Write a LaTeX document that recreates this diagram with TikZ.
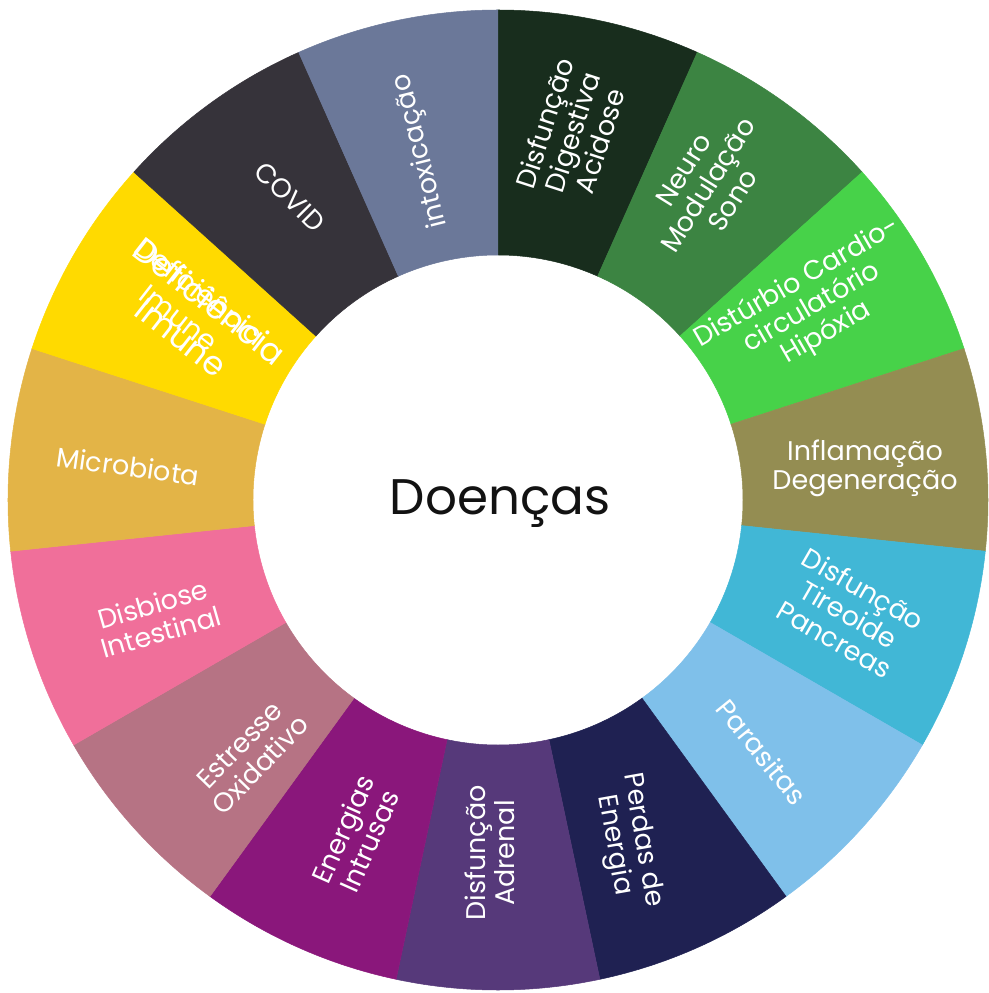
\documentclass[tikz,border=0pt]{standalone}
\usepackage{fontspec}
\setmainfont{Poppins}
\usepackage{xcolor}

\definecolor{cdigest}{HTML}{182D1D}
\definecolor{cneuro}{HTML}{3C8442}
\definecolor{ccardio}{HTML}{47D249}
\definecolor{cinflam}{HTML}{948D52}
\definecolor{ctireo}{HTML}{41B7D6}
\definecolor{cparas}{HTML}{7FC0EA}
\definecolor{cperdas}{HTML}{1F2152}
\definecolor{cadrenal}{HTML}{56397A}
\definecolor{cenerg}{HTML}{8A177B}
\definecolor{cestress}{HTML}{B67384}
\definecolor{cdisb}{HTML}{F06F9A}
\definecolor{cmicro}{HTML}{E3B447}
\definecolor{cdefic}{HTML}{FFDA00}
\definecolor{ccovid}{HTML}{36333A}
\definecolor{cintox}{HTML}{6B7899}

\begin{document}
\begin{tikzpicture}[x=1pt,y=1pt,
  lbl/.style={text=white,align=center,inner sep=0pt,font=\fontsize{27}{29}\selectfont}]
\useasboundingbox (-498,-493) rectangle (490,500);

\foreach \a/\b/\c in {90/66/cdigest,66/42/cneuro,42/18/ccardio,18/-6/cinflam,
  -6/-30/ctireo,-30/-54/cparas,-54/-78/cperdas,-78/-102/cadrenal,
  -102/-126/cenerg,-126/-150/cestress,-150/-174/cdisb,-174/-198/cmicro,
  162/138/cdefic,138/114/ccovid,114/90/cintox}
  \filldraw[fill=\c,draw=\c,line width=0.5pt] (\a:245pt) arc[start angle=\a,end angle=\b,radius=245pt]
    -- (\b:490pt) arc[start angle=\b,end angle=\a,radius=490pt] -- cycle;

\node[text=black!93,font=\fontsize{50}{56}\selectfont] (doencas) at (2,-4) {Doenças};

\node[lbl,rotate=72] (digest) at (74,368) {Disfunção\\Digestiva\\Acidose};
\node[lbl,rotate=58] (neuro) at (210,315) {Neuro\\Modulação\\Sono};
\node[lbl,rotate=30] (cardio) at (314,192) {Distúrbio Cardio-\\circulatório\\Hipóxia};
\node[lbl] (inflam) at (367,32) {Inflamação\\Degeneração};
\node[lbl,rotate=-30] (tireo) at (351,-114) {Disfunção\\Tireoide\\Pancreas};
\node[lbl,rotate=-51] (paras) at (264,-252) {Parasitas};
\node[lbl,rotate=-80] (perdas) at (130,-343) {Perdas de\\Energia};
\node[lbl,rotate=90] (adrenal) at (-8,-353) {Disfunção\\Adrenal};
\node[lbl,rotate=66] (energ) at (-142,-335) {Energias\\Intrusas};
\node[lbl,rotate=46] (estress) at (-248,-255) {Estresse\\Oxidativo};
\node[lbl,rotate=16] (disb) at (-341,-118) {Disbiose\\Intestinal};
\node[lbl,rotate=-8] (micro) at (-370,34) {Microbiota};
% label printed twice, one over the other
\node[lbl,rotate=-38,font=\fontsize{33}{46}\selectfont] (deficA) at (-302,181) {Deficiência\\Imune};
\node[lbl,rotate=-38,font=\fontsize{28}{34}\selectfont] (deficB) at (-308,196) {Deficiência\\Imune};
\node[lbl,rotate=-45] (covid) at (-208,303) {COVID};
\node[lbl,rotate=104] (intox) at (-77,349) {intoxicação};
\end{tikzpicture}
\end{document}
